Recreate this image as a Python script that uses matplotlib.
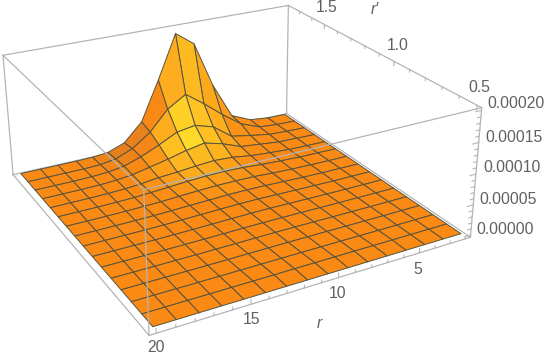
import numpy as np
import matplotlib
matplotlib.use("Agg")
import matplotlib.pyplot as plt
from matplotlib.colors import to_rgb

# ---- data -----------------------------------------------------------------
r_nodes = [2.0, 3.2, 4.4, 5.6, 6.8, 8.0, 9.2, 10.4, 11.6, 12.8, 14.0, 15.2, 16.4, 17.6, 18.8, 20.0]
# how far the mesh lines lean toward larger r at the far edge, as seen in the picture
r_lean = [0, .10, .20, .35, .50, .55, .58, .60, .60, .60, .50, .30, .15, .10, 0, 0]
row_lean = [1, 1, 1, 1, 1, .9, .8, .7, .6, .5, .4, .3, .2, .1, 0, 0]
rp_nodes = [1.77, 1.685, 1.6, 1.516, 1.431, 1.347, 1.262, 1.177, 1.093, 1.008, .924, .839, .754, .669, .585, .5]
z_e5 = [
    [0, .10, .50, 2.1, 8.7, 16.9, 19.3, 11.6, 4.6, 1.4, .30, .05, 0, 0, 0, 0],
    [0, .10, .40, 1.8, 4.4, 7.1, 9.5, 7.5, 4.0, 1.7, .50, .10, 0, 0, 0, 0],
    [0, .10, .30, .90, 1.6, 4.1, 5.1, 4.6, 3.0, 1.6, .60, .20, .05, 0, 0, 0],
    [0, .10, .20, .60, 1.0, 2.3, 3.2, 2.6, 1.8, 1.1, .50, .20, .05, 0, 0, 0],
    [0, .05, .15, .40, .70, 1.2, 1.4, 1.2, .90, .70, .35, .15, .05, 0, 0, 0],
    [0, .05, .10, .25, .45, .70, .85, .80, .65, .45, .25, .10, .03, 0, 0, 0],
    [0, .02, .08, .15, .30, .50, .55, .55, .45, .30, .15, .08, .02, 0, 0, 0],
    [0, .02, .05, .12, .22, .35, .40, .40, .30, .22, .12, .05, .01, 0, 0, 0],
    [0, .01, .03, .08, .15, .22, .28, .28, .22, .15, .08, .03, 0, 0, 0, 0],
    [0, 0, .02, .05, .10, .15, .20, .20, .15, .10, .05, .02, 0, 0, 0, 0],
    [0, 0, .01, .03, .06, .10, .12, .12, .10, .06, .03, .01, 0, 0, 0, 0],
    [0, 0, 0, .02, .04, .06, .08, .08, .06, .04, .02, 0, 0, 0, 0, 0],
    [0, 0, 0, .01, .02, .04, .05, .05, .04, .03, .01, 0, 0, 0, 0, 0],
    [0, 0, 0, 0, .01, .02, .02, .02, .02, .01, 0, 0, 0, 0, 0, 0],
    [0, 0, 0, 0, 0, .01, .01, .01, .01, 0, 0, 0, 0, 0, 0, 0],
    [0, 0, 0, 0, 0, 0, 0, 0, 0, 0, 0, 0, 0, 0, 0, 0],
]
# facet tint: 0 plain orange, positive toward yellow, negative toward dark orange
tint = np.zeros((15, 15))
tint[0] = [0, 0, .05, .2, .35, .55, .4, -.05, -.4, -.45, -.3, -.1, 0, 0, 0]
tint[1] = [0, 0, .03, .1, .4, .65, .8, .4, -.15, -.3, -.2, -.1, 0, 0, 0]
tint[2] = [0, 0, .03, .1, .3, .6, .9, .6, .15, -.05, -.05, 0, 0, 0, 0]
tint[3] = [0, 0, 0, .05, .2, .45, .55, .5, .25, .1, 0, 0, 0, 0, 0]
tint[4] = [0, 0, 0, 0, .1, .25, .35, .35, .2, .1, 0, 0, 0, 0, 0]
tint[5] = [0, 0, 0, 0, .05, .12, .2, .2, .12, .05, 0, 0, 0, 0, 0]
tint[6] = [0, 0, 0, 0, 0, .05, .1, .1, .05, 0, 0, 0, 0, 0, 0]
r_major = [5, 10, 15, 20]
r_minor = [2, 3, 4, 6, 7, 8, 9, 11, 12, 13, 14, 16, 17, 18, 19]
rp_major = [0.5, 1.0, 1.5]
rp_minor = [0.6, 0.7, 0.8, 0.9, 1.1, 1.2, 1.3, 1.4, 1.6, 1.7]
z_major = [0.0, 0.00005, 0.0001, 0.00015, 0.0002]
z_minor = [0.00001, 0.00002, 0.00003, 0.00004, 0.00006, 0.00007, 0.00008, 0.00009,
           0.00011, 0.00012, 0.00013, 0.00014, 0.00016, 0.00017, 0.00018, 0.00019]
r_labels = ["5", "10", "15", "20"]
rp_labels = ["0.5", "1.0", "1.5"]
z_labels = ["0.00000", "0.00005", "0.00010", "0.00015", "0.00020"]

# ---- layout ---------------------------------------------------------------
W, H = 550, 357
r_lim = (1.64, 20.36)
rp_lim = (0.475, 1.795)
z_lim = (-4e-6, 2.04e-4)
# box corner (r end, r' end, z end) -> pixel in the 550x357 frame
corners = {
    (1, 0, 0): (149, 335), (0, 0, 0): (470, 238), (1, 1, 0): (13, 175), (0, 1, 0): (287, 113),
    (1, 0, 1): (144, 190), (0, 0, 1): (482, 107), (1, 1, 1): (3, 55), (0, 1, 1): (288, 6),
}
A_, b_ = [], []
for (u, v, w), (x, y) in corners.items():
    A_.append([u, v, w, 1, 0, 0, 0, 0, -x*u, -x*v, -x*w]); b_.append(x)
    A_.append([0, 0, 0, 0, u, v, w, 1, -y*u, -y*v, -y*w]); b_.append(y)
h = np.linalg.lstsq(np.array(A_, float), np.array(b_, float), rcond=None)[0]
P = np.append(h, 1).reshape(3, 4)
S = np.array([[1/(r_lim[1]-r_lim[0]), 0, 0, -r_lim[0]/(r_lim[1]-r_lim[0])],
              [0, 1/(rp_lim[1]-rp_lim[0]), 0, -rp_lim[0]/(rp_lim[1]-rp_lim[0])],
              [0, 0, 1/(z_lim[1]-z_lim[0]), -z_lim[0]/(z_lim[1]-z_lim[0])],
              [0, 0, 0, 1]])
PS = P @ S

fig = plt.figure(figsize=(W/100, H/100), dpi=100, facecolor="white")
ax = fig.add_axes([0, 0, 1, 1], projection="3d")
ax.apply_aspect = lambda position=None: None
ax.set_axis_off()


def get_proj():
    D = np.array([[1, 0, 0], [0, -1, H], [0, 0, 1.0]])
    A = ax.transData.inverted().get_matrix()
    Q = A @ D @ PS
    return np.array([Q[0], Q[1], [0, 0, 0, -1.0], Q[2]])


ax.get_proj = get_proj
ax.computed_zorder = False
ax.set_xlim(*r_lim); ax.set_ylim(*rp_lim); ax.set_zlim(*z_lim)

# ---- surface --------------------------------------------------------------
R, RP = np.meshgrid(r_nodes, rp_nodes)
R = R + np.outer(row_lean, r_lean)
Z = np.array(z_e5) * 1e-5

base = np.array(to_rgb("#fb8a14"))
yellow = np.array(to_rgb("#ffe22a"))
dark = np.array(to_rgb("#cd7328"))
t = tint[..., None]
fcol = base + np.clip(t, 0, 1)*(yellow-base) + np.clip(-t, 0, 1)*(dark-base)
ax.plot_surface(R, RP, Z, rstride=1, cstride=1, facecolors=fcol, shade=False,
                edgecolor="#57523c", linewidth=0.7, antialiased=True, zorder=2)

# ---- box ------------------------------------------------------------------
box_c = "#b4b4b4"


def seg(a, b, zo):
    ax.plot([r_lim[a[0]], r_lim[b[0]]], [rp_lim[a[1]], rp_lim[b[1]]], [z_lim[a[2]], z_lim[b[2]]],
            color=box_c, lw=0.9, zorder=zo, clip_on=False)


for a, b in [((1, 1, 0), (0, 1, 0)), ((0, 0, 0), (0, 1, 0)), ((0, 1, 0), (0, 1, 1)),
             ((1, 1, 1), (0, 1, 1)), ((0, 1, 1), (0, 0, 1)), ((1, 1, 0), (1, 1, 1))]:
    seg(a, b, 1)
for a, b in [((1, 0, 0), (0, 0, 0)), ((1, 0, 0), (1, 1, 0)), ((0, 0, 0), (0, 0, 1))]:
    seg(a, b, 1)
for a, b in [((1, 0, 0), (1, 0, 1)), ((1, 0, 1), (0, 0, 1)), ((1, 0, 1), (1, 1, 1))]:
    seg(a, b, 3)

# ---- ticks ----------------------------------------------------------------
zspan = z_lim[1]-z_lim[0]
rspan = r_lim[1]-r_lim[0]
for vals, L in [(r_major, 0.035), (r_minor, 0.02)]:
    for v_ in vals:
        ax.plot([v_, v_], [rp_lim[0]]*2, [z_lim[0], z_lim[0]+L*zspan], color=box_c, lw=0.8, zorder=3)
for vals, L in [(rp_major, 0.035), (rp_minor, 0.02)]:
    for v_ in vals:
        ax.plot([r_lim[0]]*2, [v_, v_], [z_lim[1], z_lim[1]-L*zspan], color=box_c, lw=0.8, zorder=3)
for vals, L in [(z_major, 0.02), (z_minor, 0.012)]:
    for v_ in vals:
        ax.plot([r_lim[0], r_lim[0]+L*rspan], [rp_lim[0]]*2, [v_, v_], color=box_c, lw=0.8, zorder=3)

# ---- labels ---------------------------------------------------------------
txt_c = "#606060"
font = "Liberation Sans"


def label(px, py, s, **kw):
    ax.text2D(px/W, 1-py/H, s, transform=ax.transAxes, ha="center", va="center",
              color=txt_c, family=font, **kw)


for (px, py), s in zip([(418, 269), (338, 293), (251, 320), (156, 348)], r_labels):
    label(px, py, s, fontsize=11.3)
for (px, py), s in zip([(479, 88), (398, 45), (327, 8)], rp_labels):
    label(px, py, s, fontsize=11.3)
for (px, py), s in zip([(505, 229), (508, 200), (512, 168), (514, 137), (516, 103)], z_labels):
    label(px, py, s, fontsize=11.3)
label(319, 323, "r", fontsize=11.3, style="italic")
label(375, 9, "r\u2032", fontsize=11.3, style="italic")

fig.savefig("out.png", dpi=100, facecolor="white")
